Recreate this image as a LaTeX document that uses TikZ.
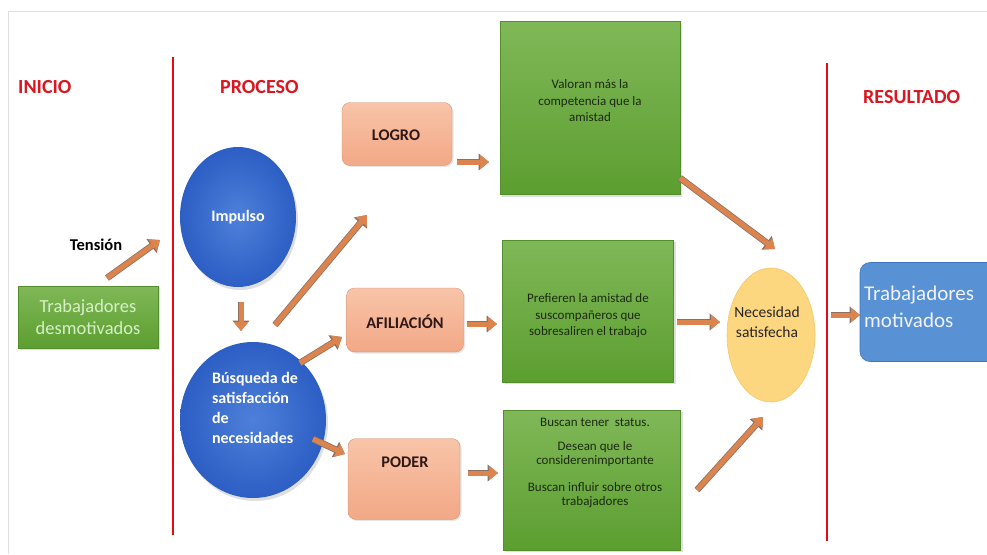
\documentclass[tikz,border=0pt]{standalone}
\usepackage{fontspec}
\setmainfont{Carlito}
\usetikzlibrary{arrows.meta,shapes.geometric,shadows}
\definecolor{titlered}{RGB}{218,22,32}
\definecolor{linered}{RGB}{226,12,22}
\definecolor{greenTop}{RGB}{128,184,88}
\definecolor{greenBot}{RGB}{92,158,48}
\definecolor{greenText}{RGB}{28,42,18}
\definecolor{desText}{RGB}{214,240,198}
\definecolor{blueIn}{RGB}{78,128,218}
\definecolor{blueOut}{RGB}{44,94,196}
\definecolor{salTop}{RGB}{248,196,168}
\definecolor{salBot}{RGB}{242,168,134}
\definecolor{salText}{RGB}{48,24,24}
\definecolor{necFill}{RGB}{253,214,128}
\definecolor{necEdge}{RGB}{244,198,108}
\definecolor{tmBlue}{RGB}{88,146,212}
\definecolor{tmEdge}{RGB}{62,118,190}
\definecolor{arrowFill}{RGB}{220,132,78}
\definecolor{arrowEdge}{RGB}{140,112,102}
\tikzset{
  title/.style={text=titlered, font=\fontsize{20}{23}\selectfont\bfseries, inner sep=0pt},
  redline/.style={draw=linered, line width=2.8pt},
  greenbox/.style={rectangle, top color=greenTop, bottom color=greenBot, draw=greenBot!90!black, line width=0.3pt,
     drop shadow={opacity=0.25, shadow xshift=2pt, shadow yshift=-2pt}},
  greentxt/.style={text=greenText, font=\fontsize{13}{16.5}\selectfont, align=center, inner sep=0pt},
  blueball/.style={ellipse, inner sep=0pt, inner color=blueIn, outer color=blueOut,
     drop shadow={opacity=0.25, shadow xshift=2pt, shadow yshift=-3pt}},
  saltbox/.style={rectangle, rounded corners=8pt, top color=salTop, bottom color=salBot, draw=salBot!85!black, line width=0.3pt,
     drop shadow={opacity=0.2, shadow xshift=1.5pt, shadow yshift=-1.5pt}},
  salttxt/.style={text=salText, font=\fontsize{16.3}{19}\selectfont\bfseries, inner sep=0pt},
  barrow/.style={draw=arrowFill, line width=5pt, -{Triangle[length=9pt,width=14pt]},
     preaction={draw=arrowEdge, line width=6.6pt, -{Triangle[length=10.5pt,width=16.5pt]}}},
}
\begin{document}
\begin{tikzpicture}[x=1pt,y=-1pt]
\useasboundingbox (0,0) rectangle (987,554);
\fill[white] (0,0) rectangle (987,554);
\draw[black!12, line width=1pt] (8,554) -- (8,11) -- (987,11);

% section dividers and titles
\draw[redline] (173,57) -- (173,535);
\draw[redline] (827,63) -- (827,541);
\node[title, anchor=west] (inicio) at (18,87) {INICIO};
\node[title, anchor=west] (proceso) at (220,87) {PROCESO};
\node[title, anchor=west] (resultado) at (863,97) {RESULTADO};

% inicio
\node[font=\fontsize{16.5}{19}\selectfont\bfseries, inner sep=0pt] (tension) at (96,245) {Tensión};
\node[greenbox, minimum width=140pt, minimum height=62pt, text=desText, align=center,
      font=\fontsize{18.5}{22}\selectfont] (des) at (88,317) {Trabajadores\\desmotivados};

% proceso
\node[blueball, minimum width=116pt, minimum height=140pt, text=white,
      font=\fontsize{16}{19}\selectfont\bfseries] (impulso) at (238,217) {Impulso\\[9pt]};
\node[blueball, minimum width=146pt, minimum height=156pt] (bus) at (253,420) {};
\node[text=white, font=\fontsize{16}{20}\selectfont\bfseries, align=left, inner sep=0pt] (bustxt) at (255,408)
  {Búsqueda de\\satisfacción\\de\\necesidades};

\node[saltbox, minimum width=110pt, minimum height=63pt] (logro) at (397,134) {};
\node[salttxt] (logrotxt) at (396,135) {LOGRO};
\node[saltbox, minimum width=117pt, minimum height=64pt] (afil) at (405,320) {};
\node[salttxt] (afiltxt) at (405,322) {AFILIACIÓN};
\node[saltbox, minimum width=112pt, minimum height=81pt] (poder) at (404,479) {};
\node[salttxt] (podertxt) at (405,462) {PODER};

\node[greenbox, minimum width=180pt, minimum height=173pt] (g1) at (590,108) {};
\node[greentxt] (g1txt) at (590,101) {Valoran más la\\competencia que la\\amistad};
\node[greenbox, minimum width=171pt, minimum height=142pt] (g2) at (588,311) {};
\node[greentxt] (g2txt) at (588,316) {Prefieren la amistad de\\suscompañeros que\\sobresaliren el trabajo};
\node[greenbox, minimum width=177pt, minimum height=140pt] (g3) at (592,480) {};
\node[greentxt, font=\fontsize{13}{14.5}\selectfont] (g3txt) at (595,463)
  {Buscan tener\ \ status.\\[9pt]Desean que le\\considerenimportante\\[12pt]Buscan influir sobre otros\\trabajadores};

\node[ellipse, minimum width=88pt, minimum height=134pt, inner sep=0pt, fill=necFill, draw=necEdge, line width=0.6pt] (nec) at (771,335) {};
\node[text=black!85, font=\fontsize{15.5}{20}\selectfont, align=center, inner sep=0pt] (nectxt) at (767,322) {Necesidad\\satisfecha};

% resultado
\node[rectangle, rounded corners=10pt, fill=tmBlue, draw=tmEdge, line width=0.6pt, minimum width=140pt, minimum height=99pt] (tm) at (930,312) {};
\node[anchor=west, text=white!95!blue, font=\fontsize{21}{27}\selectfont, align=left, inner sep=0pt] (tmtxt) at (864,307) {Trabajadores\\motivados};

% connector end points
\coordinate (t1) at (107,278); \coordinate (t2) at (160,240);
\coordinate (d1) at (241,302); \coordinate (d2) at (241,331);
\coordinate (bl1) at (275,325); \coordinate (bl2) at (367,215);
\coordinate (ba1) at (300,363); \coordinate (ba2) at (342,337);
\coordinate (bp1) at (313,439); \coordinate (bp2) at (345,454);
\coordinate (lg1) at (457,162); \coordinate (lg2) at (489,162);
\coordinate (ag1) at (467,324); \coordinate (ag2) at (497,324);
\coordinate (pg1) at (468,473); \coordinate (pg2) at (498,473);
\coordinate (gn1) at (680,178); \coordinate (gn2) at (775,249);
\coordinate (gm1) at (677,322); \coordinate (gm2) at (720,322);
\coordinate (go1) at (697,490); \coordinate (go2) at (763,417);
\coordinate (nt1) at (831,315); \coordinate (nt2) at (860,315);

\draw[barrow] (t1) -- (t2);
\draw[barrow] (d1) -- (d2);
\draw[barrow] (bl1) -- (bl2);
\draw[barrow] (ba1) -- (ba2);
\draw[barrow] (bp1) -- (bp2);
\draw[barrow] (lg1) -- (lg2);
\draw[barrow] (ag1) -- (ag2);
\draw[barrow] (pg1) -- (pg2);
\draw[barrow] (gn1) -- (gn2);
\draw[barrow] (gm1) -- (gm2);
\draw[barrow] (go1) -- (go2);
\draw[barrow] (nt1) -- (nt2);
\end{tikzpicture}
\end{document}
